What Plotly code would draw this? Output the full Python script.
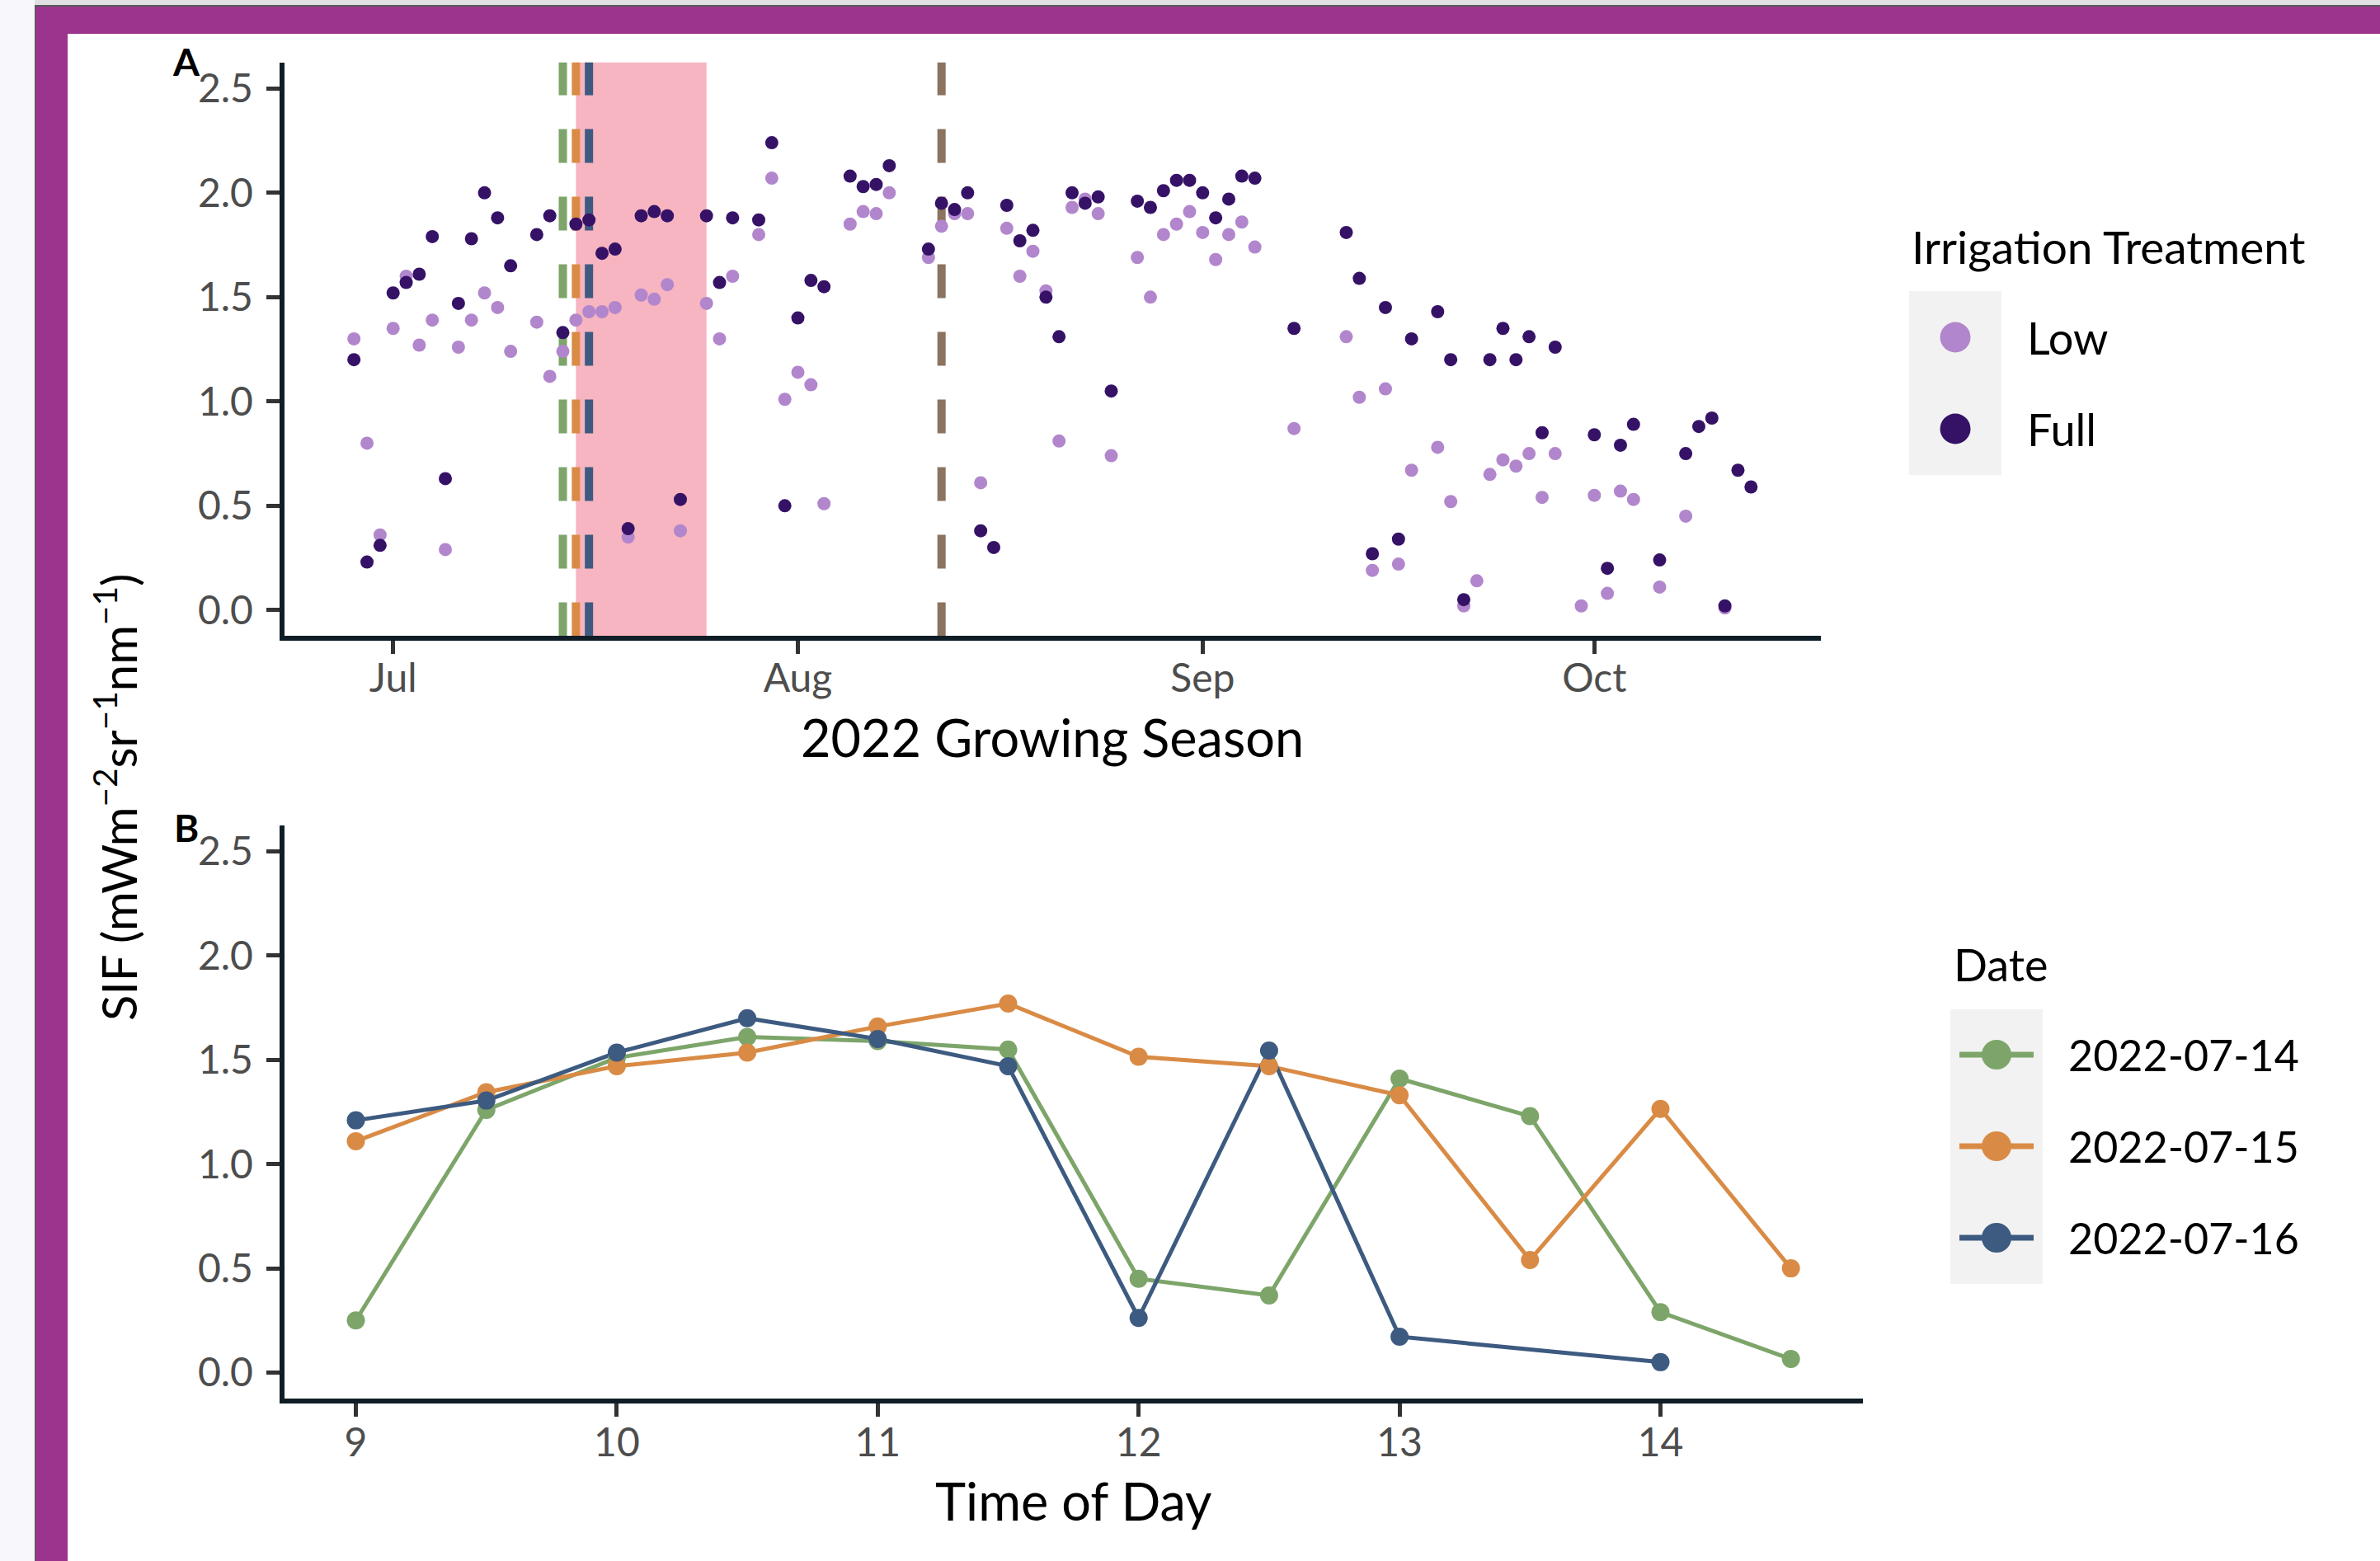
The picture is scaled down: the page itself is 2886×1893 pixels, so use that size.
import pandas as pd
import plotly.graph_objects as go

# ---------------- data ----------------
season_dates = [
    "2022-06-28", "2022-06-29", "2022-06-30", "2022-07-01", "2022-07-02", "2022-07-03",
    "2022-07-04", "2022-07-05", "2022-07-06", "2022-07-07", "2022-07-08", "2022-07-09",
    "2022-07-10", "2022-07-12", "2022-07-13", "2022-07-14", "2022-07-15", "2022-07-16",
    "2022-07-17", "2022-07-18", "2022-07-19", "2022-07-20", "2022-07-21", "2022-07-22",
    "2022-07-23", "2022-07-25", "2022-07-26", "2022-07-27", "2022-07-29", "2022-07-30",
    "2022-07-31", "2022-08-01", "2022-08-02", "2022-08-03", "2022-08-05", "2022-08-06",
    "2022-08-07", "2022-08-08", "2022-08-11", "2022-08-12", "2022-08-13", "2022-08-14",
    "2022-08-15", "2022-08-16", "2022-08-17", "2022-08-18", "2022-08-19", "2022-08-20",
    "2022-08-21", "2022-08-22", "2022-08-23", "2022-08-24", "2022-08-25", "2022-08-27",
    "2022-08-28", "2022-08-29", "2022-08-30", "2022-08-31", "2022-09-01", "2022-09-02",
    "2022-09-03", "2022-09-04", "2022-09-05", "2022-09-08", "2022-09-12", "2022-09-13",
    "2022-09-14", "2022-09-15", "2022-09-16", "2022-09-17", "2022-09-19", "2022-09-20",
    "2022-09-21", "2022-09-22", "2022-09-23", "2022-09-24", "2022-09-25", "2022-09-26",
    "2022-09-27", "2022-09-28", "2022-09-30", "2022-10-01", "2022-10-02", "2022-10-03",
    "2022-10-04", "2022-10-06", "2022-10-08", "2022-10-09", "2022-10-10", "2022-10-11",
    "2022-10-12", "2022-10-13",
]
sif_low = [
    1.30, 0.80, 0.36, 1.35, 1.60, 1.27,
    1.39, 0.29, 1.26, 1.39, 1.52, 1.45,
    1.24, 1.38, 1.12, 1.24, 1.39, 1.43,
    1.43, 1.45, 0.35, 1.51, 1.49, 1.56,
    0.38, 1.47, 1.30, 1.60, 1.80, 2.07,
    1.01, 1.14, 1.08, 0.51, 1.85, 1.91,
    1.90, 2.00, 1.69, 1.84, 1.90, 1.90,
    0.61, None, 1.83, 1.60, 1.72, 1.53,
    0.81, 1.93, 1.97, 1.90, 0.74, 1.69,
    1.50, 1.80, 1.85, 1.91, 1.81, 1.68,
    1.80, 1.86, 1.74, 0.87, 1.31, 1.02,
    0.19, 1.06, 0.22, 0.67, 0.78, 0.52,
    0.02, 0.14, 0.65, 0.72, 0.69, 0.75,
    0.54, 0.75, 0.02, 0.55, 0.08, 0.57,
    0.53, 0.11, 0.45, None, None, 0.01,
    None, None,
]
sif_full = [
    1.20, 0.23, 0.31, 1.52, 1.57, 1.61,
    1.79, 0.63, 1.47, 1.78, 2.00, 1.88,
    1.65, 1.80, 1.89, 1.33, 1.85, 1.87,
    1.71, 1.73, 0.39, 1.89, 1.91, 1.89,
    0.53, 1.89, 1.57, 1.88, 1.87, 2.24,
    0.50, 1.40, 1.58, 1.55, 2.08, 2.03,
    2.04, 2.13, 1.73, 1.95, 1.92, 2.00,
    0.38, 0.30, 1.94, 1.77, 1.82, 1.50,
    1.31, 2.00, 1.95, 1.98, 1.05, 1.96,
    1.93, 2.01, 2.06, 2.06, 2.00, 1.88,
    1.97, 2.08, 2.07, 1.35, 1.81, 1.59,
    0.27, 1.45, 0.34, 1.30, 1.43, 1.20,
    0.05, None, 1.20, 1.35, 1.20, 1.31,
    0.85, 1.26, None, 0.84, 0.20, 0.79,
    0.89, 0.24, 0.75, 0.88, 0.92, 0.02,
    0.67, 0.59,
]

# measurement days marked on the season panel
event_dates = ["2022-07-14", "2022-07-15", "2022-07-16", "2022-08-12"]
event_colors = ["#7DA56A", "#D98B45", "#3D5A80", "#8B735F"]
heat_window = ["2022-07-15", "2022-07-25"]

# diurnal course
time_of_day = [9, 9.5, 10, 10.5, 11, 11.5, 12, 12.5, 13, 13.5, 14, 14.5]
diurnal_labels = ["2022-07-14", "2022-07-15", "2022-07-16"]
diurnal_colors = ["#7DA56A", "#D98B45", "#3D5A80"]
sif_0714 = [0.25, 1.26, 1.51, 1.61, 1.59, 1.55, 0.45, 0.37, 1.41, 1.23, 0.29, 0.065]
sif_0715 = [1.11, 1.345, 1.47, 1.535, 1.66, 1.77, 1.515, 1.47, 1.33, 0.54, 1.265, 0.50]
sif_0716 = [1.21, 1.305, 1.535, 1.70, 1.60, 1.47, 0.262, 1.545, 0.172, None, 0.05, None]
diurnal_series = [sif_0714, sif_0715, sif_0716]

treatment_labels = ["Low", "Full"]
treatment_colors = ["#B286CC", "#361267"]

y_ticks = [0, 0.5, 1.0, 1.5, 2.0, 2.5]
y_ticktext = ["0.0", "0.5", "1.0", "1.5", "2.0", "2.5"]
hour_ticks = [9, 10, 11, 12, 13, 14]

# ---------------- geometry helpers ----------------
W, H = 2886, 1893


def fx(px):
    return px / W


def fy(py):
    return 1 - py / H


FONT = "Lato"
TICK_FONT = dict(family=FONT, size=48, color="#4D4D4D")
AXIS_LINE = "#0F1D26"
PANEL_BG = "#E1DFE0"

fig = go.Figure()

# ---------------- panel A: season scatter ----------------
for label, color, vals in zip(treatment_labels, treatment_colors, [sif_low, sif_full]):
    fig.add_trace(go.Scatter(
        x=season_dates, y=vals, mode="markers", name=label,
        marker=dict(size=16, color=color, line=dict(width=0)),
        xaxis="x", yaxis="y", showlegend=False,
    ))

# ---------------- panel B: diurnal lines ----------------
for label, color, vals in zip(diurnal_labels, diurnal_colors, diurnal_series):
    fig.add_trace(go.Scatter(
        x=time_of_day, y=vals, mode="lines", name=label, connectgaps=True,
        line=dict(color=color, width=5),
        xaxis="x2", yaxis="y2", showlegend=False,
    ))
for label, color, vals in zip(diurnal_labels, diurnal_colors, diurnal_series):
    fig.add_trace(go.Scatter(
        x=time_of_day, y=vals, mode="markers", name=label,
        marker=dict(size=22, color=color, line=dict(width=0)),
        xaxis="x2", yaxis="y2", showlegend=False,
    ))

# x range of the season panel: data span plus 5% on each side
d = pd.to_datetime(season_dates)
pad = (d.max() - d.min()) * 0.05
date_range = [(d.min() - pad).strftime("%Y-%m-%d %H:%M"), (d.max() + pad).strftime("%Y-%m-%d %H:%M")]
h_pad = (max(time_of_day) - min(time_of_day)) * 0.05
hour_range = [min(time_of_day) - h_pad, max(time_of_day) + h_pad]

shapes = []

# page frame
shapes += [
    dict(type="rect", xref="paper", yref="paper", x0=0, x1=1, y0=0, y1=1,
         fillcolor="#F8F8FC", line_width=0, layer="below"),
    dict(type="rect", xref="paper", yref="paper", x0=fx(42), x1=1, y0=0, y1=1,
         fillcolor="#E0E0E2", line_width=0, layer="below"),
    dict(type="rect", xref="paper", yref="paper", x0=fx(42), x1=1, y0=0, y1=fy(6),
         fillcolor="#5A5A5A", line_width=0, layer="below"),
    dict(type="rect", xref="paper", yref="paper", x0=fx(43.5), x1=1, y0=0, y1=fy(8),
         fillcolor="#9C348D", line_width=0, layer="below"),
    dict(type="rect", xref="paper", yref="paper", x0=fx(82), x1=1, y0=0, y1=fy(41),
         fillcolor="white", line_width=0, layer="below"),
]

# heat window and measurement days
shapes.append(dict(type="rect", xref="x", yref="y domain", x0=heat_window[0], x1=heat_window[1],
                   y0=0, y1=1, fillcolor="#F7B4C1", line_width=0, layer="below"))
for dt, col in zip(event_dates, event_colors):
    shapes.append(dict(type="line", xref="x", yref="y domain", x0=dt, x1=dt, y0=0, y1=1,
                       line=dict(color=col, width=10, dash="41px,41px"), layer="below"))

annotations = []


def text(x, y, s, size, color="black", xanchor="left", bold=False, angle=0):
    annotations.append(dict(
        xref="paper", yref="paper", x=fx(x), y=fy(y), text=f"<b>{s}</b>" if bold else s,
        showarrow=False, xanchor=xanchor, yanchor="middle", textangle=angle,
        font=dict(family=FONT, size=size, color=color),
    ))


def circle(cx, cy, r, color):
    shapes.append(dict(type="circle", xref="paper", yref="paper",
                       x0=fx(cx - r), x1=fx(cx + r), y0=fy(cy + r), y1=fy(cy - r),
                       fillcolor=color, line_width=0, layer="above"))


# legend: irrigation treatment
text(2316, 299, "Irrigation Treatment", 55)
shapes.append(dict(type="rect", xref="paper", yref="paper", x0=fx(2315), x1=fx(2427),
                   y0=fy(576), y1=fy(353), fillcolor="#F2F2F2", line_width=0, layer="below"))
for i, (label, color) in enumerate(zip(treatment_labels, treatment_colors)):
    cy = 409 + i * 111
    circle(2371, cy, 18.5, color)
    text(2456, cy, label, 54)

# legend: date
text(2367, 1169, "Date", 54)
shapes.append(dict(type="rect", xref="paper", yref="paper", x0=fx(2365), x1=fx(2477),
                   y0=fy(1557), y1=fy(1224), fillcolor="#F2F2F2", line_width=0, layer="below"))
for i, (label, color) in enumerate(zip(diurnal_labels, diurnal_colors)):
    cy = 1279 + i * 111
    shapes.append(dict(type="line", xref="paper", yref="paper", x0=fx(2376), x1=fx(2466),
                       y0=fy(cy), y1=fy(cy), line=dict(color=color, width=7), layer="above"))
    circle(2421, cy, 18, color)
    text(2506, cy, label, 52)

# panel tags, axis titles
text(207, 75, "A", 46, bold=True)
text(209, 1004, "B", 46, bold=True)
text(1276, 893, "2022 Growing Season", 63, xanchor="center")
text(1302, 1819, "Time of Day", 63, xanchor="center")
text(140, 967, "SIF (mWm<sup>−2</sup>sr<sup>−1</sup>nm<sup>−1</sup>)", 58, xanchor="center", angle=-90)

axis_common = dict(
    showgrid=False, zeroline=False, showline=True, linecolor=AXIS_LINE, linewidth=6,
    ticks="outside", ticklen=16, tickwidth=5, tickcolor="#333333", tickfont=TICK_FONT,
)

fig.update_layout(
    width=W, height=H,
    margin=dict(l=0, r=0, t=0, b=0),
    paper_bgcolor="white",
    plot_bgcolor=PANEL_BG,
    showlegend=False,
    xaxis=dict(domain=[fx(344.5), fx(2208)], anchor="y", type="date", range=date_range,
               tick0="2022-07-01", dtick="M1", tickformat="%b", ticklabelstandoff=-12,
               **axis_common),
    yaxis=dict(domain=[fy(771.4), fy(75.7)], anchor="x", range=[-0.125, 2.625],
               tickvals=y_ticks, ticktext=y_ticktext, ticklabelstandoff=6, **axis_common),
    xaxis2=dict(domain=[fx(344.5), fx(2258.7)], anchor="y2", range=hour_range,
                tickvals=hour_ticks, ticklabelstandoff=-10, **axis_common),
    yaxis2=dict(domain=[fy(1696.1), fy(1000.9)], anchor="x2", range=[-0.125, 2.625],
                tickvals=y_ticks, ticktext=y_ticktext, ticklabelstandoff=6, **axis_common),
    shapes=shapes,
    annotations=annotations,
)

fig.write_html("out.html")
